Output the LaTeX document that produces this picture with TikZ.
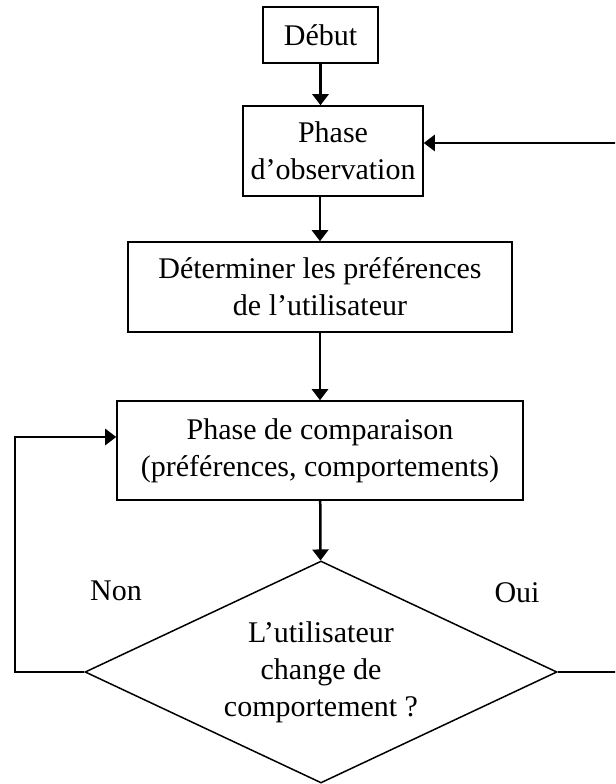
\documentclass[tikz,border=0pt]{standalone}
\usepackage{fontspec}
\setmainfont{Liberation Serif}
\usetikzlibrary{arrows.meta,shapes.geometric}

\tikzset{
	box/.style={rectangle,draw,line width=0.6pt,align=center,inner sep=2pt,font=\fontsize{12}{14.8}\selectfont},
	flow/.style={line width=1pt,-{Triangle[length=4.4pt,width=6.4pt]}},
	answer/.style={font=\fontsize{12}{14.8}\selectfont},
}

\begin{document}
\begin{tikzpicture}[x=0.4pt,y=-0.4pt]
		\useasboundingbox (0,0) rectangle (615,784);
		\clip (0,0) rectangle (615,784);
%		\draw[help lines,step=50] (0,0) grid (615,784);
		\path (320.5,35) node(debut) [box,minimum width=46pt,minimum height=22.4pt] {Début};
		\path (333,151) node(obs) [box,minimum width=72pt,minimum height=36pt] {Phase\\d’observation};
		\path (320,287) node(pref) [box,minimum width=153.6pt,minimum height=36pt] {Déterminer les préférences\\de l’utilisateur};
		\path (320,450.5) node(comp) [box,minimum width=162.4pt,minimum height=39.6pt] {Phase de comparaison\\(préférences, comportements)};
		\path (321,672) node(test) [box,diamond,aspect=2.13,minimum width=188.8pt,minimum height=88.8pt,inner sep=0pt] {L’utilisateur\\change de\\comportement ?};
		\path (116,591) node(non) [answer] {Non};
		\path (517,593) node(oui) [answer] {Oui};
		\path (15,437) coordinate (non_turn);
		\path (640,143) coordinate (oui_turn);

		\draw[flow] (debut) -- (debut.south |- obs.north);
		\draw[flow] (obs.south -| pref.north) -- (pref.north);
		\draw[flow] (pref) -- (comp);
		\draw[flow] (comp) -- (test);
		\draw[flow] (test.west) -| (non_turn) -- (comp.west |- non_turn);
		\draw[flow] (test.east) -| (oui_turn) -- (obs.east |- oui_turn);
	\end{tikzpicture}
\end{document}
